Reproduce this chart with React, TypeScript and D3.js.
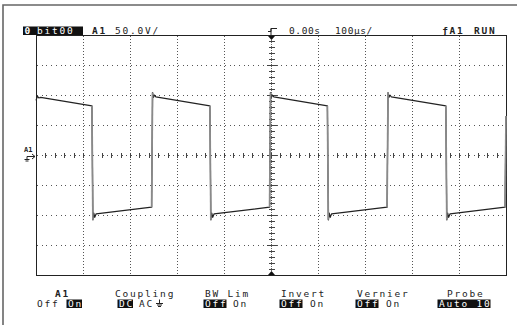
import React from 'react';
import * as d3 from 'd3';

// ---- data (time in µs, voltage in V) ----
const traceT = [
  -500, -497, -494, -490, -381,
  -379, -377, -375, -372, -254,
  -252, -250, -248, -245, -130,
  -128, -126, -124, -121, -3,
  -1, 1, 3, 6, 120,
  122, 124, 126, 129, 247,
  249, 251, 253, 256, 372,
  374, 376, 378, 381, 498,
  500,
];
const traceV = [
  91, 98, 95, 96, 82,
  -108, -97, -104, -98, -87,
  104, 96, 100, 97, 82,
  -108, -97, -104, -98, -87,
  104, 96, 100, 97, 82,
  -108, -97, -104, -98, -87,
  104, 96, 100, 97, 82,
  -108, -97, -104, -98, -87,
  65,
];

const timeDomain = [-500, 500];
const voltDomain = [-200, 200];

const headerLabels = ['0', 'bit00', 'A1', '50.0V/', '0.00s', '100µs/', 'ƒA1', 'RUN'];
const menuTitles = ['A1', 'Coupling', 'BW Lim', 'Invert', 'Vernier', 'Probe'];
const menuOptions = [['Off', 'On'], ['DC', 'AC', '⏚'], ['Off', 'On'], ['Off', 'On'], ['Off', 'On'], ['Auto 10']];
const menuSelected = [1, 0, 0, 0, 0, 0];

// ---- layout ----
const headerX = [24.5, 37, 92, 115, 289, 335, 442, 474];
const headerBold = [true, false, true, false, false, false, true, true];
const headerFill = ['#fff', '#fff', '#222', '#222', '#222', '#222', '#222', '#222'];
const headerLS = [1.8, 1.8, 1.8, 1.8, 0.6, 0.6, 1.8, 1.8];
const titleX = [55, 115, 205, 281, 357, 447];
const optionX = [[37, 68], [119, 139, 156], [205, 233], [281, 310], [357, 386], [439]];

const FONT = "'DejaVu Sans Mono', monospace";
const CH = 7.5;
const FS = 9.5;
const LS = 1.8;

export default function App() {
  const x = d3.scaleLinear().domain(timeDomain).range([36, 506]);
  const y = d3.scaleLinear().domain(voltDomain).range([275, 35]);
  const majorX = x.ticks(10);
  const majorY = y.ticks(8);
  const minorX = x.ticks(50);
  const minorY = y.ticks(40);
  const x0 = x(0);
  const y0 = y(0);

  const pts: [number, number][] = traceT.map((t, i) => [t, traceV[i]]);
  const line = d3.line<[number, number]>().x(d => x(d[0])).y(d => y(d[1]));
  const edges = pts.slice(1).map((p, i) => [pts[i], p] as [number, number][]).filter(([a, b]) => Math.abs(b[1] - a[1]) > 100);

  return (
    <svg width={517} height={325} style={{ position: 'fixed', left: 0, top: 0, background: '#fff' }} fontFamily={FONT}>
      <rect x={0} y={0} width={517} height={325} fill="#fff" />
      {/* outer frame */}
      <path d="M3,325 V5 H517" fill="none" stroke="#666" strokeWidth={1.6} />

      {/* header */}
      <rect x={23} y={26.5} width={60} height={8.5} fill="#111" />
      {headerLabels.map((s, i) => (
        <text key={i} x={headerX[i]} y={34} fontSize={FS} fontWeight={headerBold[i] ? 'bold' : 'normal'}
          letterSpacing={headerLS[i]} fill={headerFill[i]}>{s}</text>
      ))}
      {/* trigger symbol */}
      <path d={`M${x0 - 3},31.5 H${x0} V28.5 H${x0 + 6}`} fill="none" stroke="#222" strokeWidth={1} />
      <line x1={x0} x2={x0} y1={28.5} y2={35} stroke="#222" strokeWidth={1} />

      {/* grid */}
      <g shapeRendering="crispEdges">
        {majorY.filter(v => v !== voltDomain[0] && v !== voltDomain[1]).map(v => (
          <line key={'h' + v} x1={37} x2={506} y1={y(v) + 0.5} y2={y(v) + 0.5} stroke="#555"
            strokeWidth={1} strokeDasharray="1 3.7" />
        ))}
        {majorX.filter(t => t !== timeDomain[0] && t !== timeDomain[1] && t !== 0).map(t => (
          <line key={'v' + t} x1={x(t) + 0.5} x2={x(t) + 0.5} y1={36} y2={275} stroke="#555"
            strokeWidth={1} strokeDasharray="1 2" />
        ))}
        {/* center axes */}
        <line x1={x0 + 0.5} x2={x0 + 0.5} y1={36} y2={275} stroke="#666" strokeWidth={1} strokeDasharray="1 1" />
        {minorX.map(t => (
          <line key={'mx' + t} x1={x(t) + 0.5} x2={x(t) + 0.5} y1={y0 - 2} y2={y0 + 3} stroke="#444" strokeWidth={1} />
        ))}
        {minorY.map(v => (
          <line key={'my' + v} x1={x0 - 2} x2={x0 + 4} y1={y(v) + 0.5} y2={y(v) + 0.5} stroke="#444" strokeWidth={1} />
        ))}
        {majorY.map(v => (
          <line key={'My' + v} x1={x0 - 4} x2={x0 + 6} y1={y(v) + 0.5} y2={y(v) + 0.5} stroke="#444" strokeWidth={1} />
        ))}
        {/* graticule border */}
        <rect x={36.5} y={35.5} width={470} height={240} fill="none" stroke="#222" strokeWidth={1.1} />
      </g>
      {/* trigger markers */}
      <path d={`M${x0 - 3},36 L${x0 + 4},36 L${x0 + 0.5},40 Z`} fill="#111" />
      <path d={`M${x0 - 3},275 L${x0 + 4},275 L${x0 + 0.5},271 Z`} fill="#111" />

      {/* channel marker */}
      <text x={24} y={152} fontSize={7} fontWeight="bold" fill="#222">A1</text>
      <path d="M27,156.5 H35 M32,154 L35,156.5 L32,159 M27,156.5 V159 M24.5,159.5 H29.5 M25.5,161 H28.5" fill="none" stroke="#222" strokeWidth={1} />

      {/* trace */}
      <path d={line(pts) || ''} fill="none" stroke="#222" strokeWidth={1.2} strokeLinejoin="round" />
      {edges.map(([a, b], i) => (
        <line key={'e' + i} x1={x(a[0])} y1={y(a[1])} x2={x(b[0])} y2={y(b[1])} stroke="#8a8a8a" strokeWidth={1.7} />
      ))}

      {/* menu */}
      {menuTitles.map((s, i) => (
        <text key={'t' + i} x={titleX[i]} y={296.5} fontSize={FS} letterSpacing={LS}
          fontWeight={i === 0 ? 'bold' : 'normal'} fill="#222">{s}</text>
      ))}
      {menuOptions.map((opts, i) => opts.map((o, j) => {
        const ox = optionX[i][j];
        const sel = menuSelected[i] === j;
        if (o === '⏚') {
          return (
            <path key={'o' + i + j} d={`M${ox + 3.5},299.5 V303 M${ox},303.5 H${ox + 7} M${ox + 1},305 H${ox + 6} M${ox + 2},306.5 H${ox + 5}`}
              fill="none" stroke="#222" strokeWidth={1} />
          );
        }
        return (
          <g key={'o' + i + j}>
            {sel && <rect x={ox - 1.5} y={299.5} width={o.length * CH + 0.5} height={8.5} fill="#111" />}
            <text x={ox} y={306.5} fontSize={FS} letterSpacing={LS} fill={sel ? '#fff' : '#222'}>{o}</text>
          </g>
        );
      }))}
    </svg>
  );
}
